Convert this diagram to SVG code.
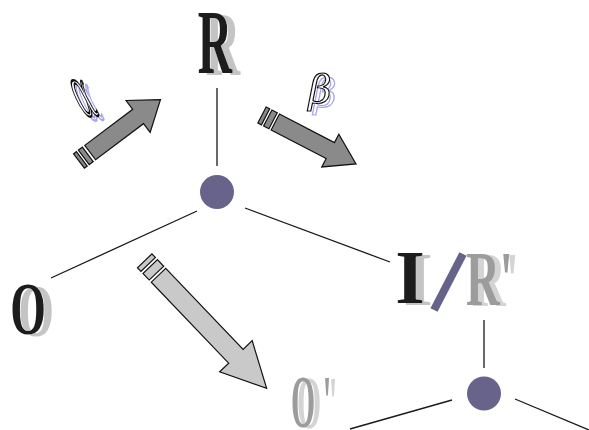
<svg xmlns="http://www.w3.org/2000/svg" width="589" height="430" viewBox="0 0 589 430">
<defs>
<filter id="shDark" x="-30%" y="-10%" width="180%" height="130%">
<feFlood flood-color="#c4c4c4"/><feComposite in2="SourceAlpha" operator="in"/><feOffset dx="8" dy="2" result="s"/>
<feMerge><feMergeNode in="s"/><feMergeNode in="SourceGraphic"/></feMerge>
</filter>
<filter id="shLight" x="-30%" y="-10%" width="180%" height="130%">
<feFlood flood-color="#d4d4d4"/><feComposite in2="SourceAlpha" operator="in"/><feOffset dx="6" dy="1" result="s"/>
<feMerge><feMergeNode in="s"/><feMergeNode in="SourceGraphic"/></feMerge>
</filter>
<filter id="shPurple" x="-40%" y="-40%" width="200%" height="200%">
<feColorMatrix in="SourceGraphic" type="matrix" values="0.6 0 0 0 0.4  0 0.6 0 0 0.38  0 0 0.2 0 0.8  0 0 0 1 0"/>
<feOffset dx="5" dy="4" result="s"/>
<feMerge><feMergeNode in="s"/><feMergeNode in="SourceGraphic"/></feMerge>
</filter>
</defs>
<style>
.ln{stroke:#1a1a1a;stroke-width:1.3;fill:none}
.node{fill:#67638a}
.big{font-family:"Liberation Serif","Times New Roman",serif;font-weight:bold}
.blk{fill:#1c1c1c}
.mid{fill:#9c9c9c}
.greek{font-family:"DejaVu Serif","Liberation Serif",serif;fill:#fff;stroke:#111;stroke-width:1.2}
.arrD{fill:#8a8a8a;stroke:#111;stroke-width:1.2;stroke-linejoin:miter}
.arrL{fill:#c9c9c9;stroke:#111;stroke-width:1.2;stroke-linejoin:miter}
</style>
<rect width="589" height="430" fill="#fff"/>
<g id="connectors">
<line class="ln" x1="217" y1="88" x2="217" y2="166"/>
<line class="ln" x1="197" y1="211" x2="51" y2="278"/>
<line class="ln" x1="245" y1="208" x2="390" y2="262"/>
<line class="ln" x1="484" y1="320" x2="484" y2="368"/>
<line class="ln" x1="452" y1="400" x2="350" y2="429"/>
<line class="ln" x1="515" y1="399" x2="589" y2="430"/>
</g>
<g id="node-center"><circle class="node" cx="217" cy="192" r="17"/></g>
<g id="node-lower"><circle class="node" cx="484" cy="393.5" r="17"/></g>
<g id="label-R" filter="url(#shDark)">
<text class="big blk" font-size="90" text-anchor="middle" transform="translate(215,73) scale(0.53,1)">R</text>
</g>
<g id="label-O" filter="url(#shDark)">
<text class="big blk" font-size="74" text-anchor="middle" transform="translate(28,334) scale(0.62,1)">O</text>
</g>
<g id="label-IR">
<text class="big blk" font-size="76" text-anchor="middle" x="410" y="303" filter="url(#shDark)">I</text>
<line x1="463" y1="254" x2="434" y2="310" stroke="#66638a" stroke-width="8"/>
<g filter="url(#shLight)"><text class="big mid" font-size="78" transform="translate(466,305) scale(0.6,1)">R'</text></g>
</g>
<g id="label-O2" filter="url(#shLight)">
<text class="big mid" font-size="74" transform="translate(291,427) scale(0.42,1)">O<tspan dx="18">'</tspan></text>
</g>
<g id="alpha" filter="url(#shPurple)">
<text class="greek" font-size="32" transform="translate(83,116) skewX(25) scale(0.8,2.1)">α</text>
</g>
<g id="beta" filter="url(#shPurple)">
<text class="greek" font-size="40" font-style="italic" text-anchor="middle" x="320" y="103">β</text>
</g>
<g id="arrow-alpha" transform="translate(79,161) rotate(-37)">
<rect class="arrD" x="0" y="-9" width="3.5" height="18"/>
<rect class="arrD" x="6" y="-9" width="5" height="18"/>
<polygon class="arrD" points="14,-9 74,-9 74,-20 102,0 74,20 74,9 14,9"/>
</g>
<g id="arrow-beta" transform="translate(262,115) rotate(27.5)">
<rect class="arrD" x="0" y="-9" width="4" height="18"/>
<rect class="arrD" x="6.5" y="-9" width="6" height="18"/>
<polygon class="arrD" points="15,-9 77,-9 77,-18.5 106,0 77,18.5 77,9 15,9"/>
</g>
<g id="arrow-big" transform="translate(144.7,260.8) rotate(46.3)">
<rect class="arrL" x="0" y="-10" width="5" height="20"/>
<rect class="arrL" x="8" y="-10" width="9" height="20"/>
<polygon class="arrL" points="20,-10 132,-10 132,-22.5 176.5,0 132,22.5 132,10 20,10"/>
</g>
</svg>
